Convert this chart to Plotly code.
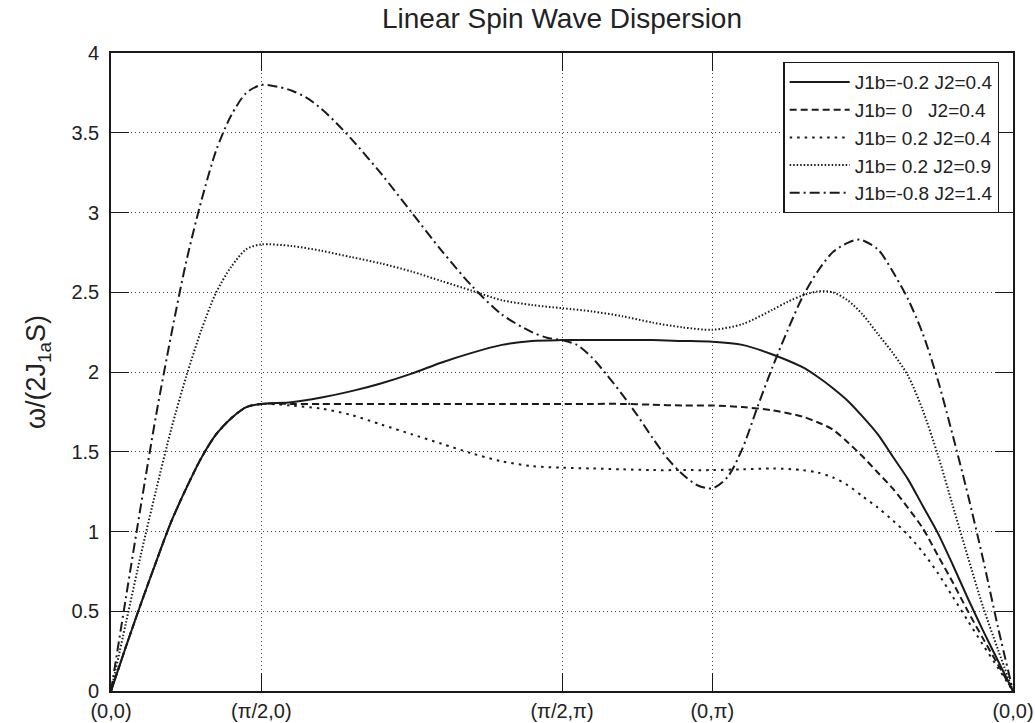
import plotly.graph_objects as go

# ---------------- data ----------------
# x = position along the path (0,0)->(pi/2,0)->(pi/2,pi)->(0,pi)->(0,0), in units of pi
tick_vals = [0, 0.5, 1.5, 2.0, 3.0]
tick_text = ["(0,0)", "(π/2,0)", "(π/2,π)", "(0,π)", "(0,0)"]

series_names = [
    "J1b=-0.2 J2=0.4",
    "J1b= 0   J2=0.4",
    "J1b= 0.2 J2=0.4",
    "J1b= 0.2 J2=0.9",
    "J1b=-0.8 J2=1.4",
]

x_a = [0, 0.05, 0.1, 0.15, 0.2, 0.25, 0.3, 0.35, 0.4, 0.45, 0.5,
       0.6, 0.7, 0.8, 0.9, 1.0, 1.1, 1.2, 1.3, 1.4, 1.5,
       1.6, 1.7, 1.8, 1.9, 2.0,
       2.1, 2.2, 2.3, 2.35, 2.4, 2.45, 2.5, 2.55, 2.6, 2.65, 2.7, 2.75, 2.8, 2.85, 2.9, 2.95, 3.0]

y_m02_04 = [0, 0.28, 0.55, 0.81, 1.06, 1.27, 1.46, 1.61, 1.71, 1.78, 1.80,
            1.81, 1.84, 1.88, 1.93, 1.99, 2.06, 2.12, 2.17, 2.195, 2.20,
            2.20, 2.20, 2.20, 2.195, 2.19,
            2.17, 2.11, 2.03, 1.97, 1.90, 1.82, 1.72, 1.61, 1.47, 1.33, 1.16, 0.99, 0.79, 0.58, 0.38, 0.19, 0]

y_0_04 = [0, 0.28, 0.55, 0.81, 1.06, 1.27, 1.46, 1.61, 1.71, 1.78, 1.80,
          1.80, 1.80, 1.80, 1.80, 1.80, 1.80, 1.80, 1.80, 1.80, 1.80,
          1.80, 1.80, 1.795, 1.79, 1.79,
          1.78, 1.76, 1.72, 1.685, 1.64, 1.56, 1.47, 1.37, 1.27, 1.15, 1.02, 0.85, 0.68, 0.50, 0.33, 0.165, 0]

y_02_04 = [0, 0.28, 0.55, 0.81, 1.06, 1.27, 1.46, 1.61, 1.71, 1.78, 1.80,
           1.79, 1.77, 1.73, 1.67, 1.61, 1.55, 1.49, 1.44, 1.41, 1.40,
           1.395, 1.39, 1.385, 1.385, 1.385,
           1.39, 1.395, 1.385, 1.37, 1.34, 1.29, 1.22, 1.15, 1.07, 0.98, 0.87, 0.74, 0.59, 0.44, 0.29, 0.145, 0]

x_b = [0, 0.05, 0.1, 0.15, 0.2, 0.25, 0.3, 0.35, 0.4, 0.45, 0.5,
       0.6, 0.7, 0.8, 0.9, 1.0, 1.1, 1.2, 1.3, 1.4, 1.5,
       1.6, 1.7, 1.8, 1.9, 2.0,
       2.1, 2.2, 2.25, 2.3, 2.35, 2.4, 2.45, 2.5, 2.55, 2.6, 2.65, 2.7, 2.75, 2.8, 2.85, 2.9, 2.95, 3.0]
y_02_09 = [0, 0.43, 0.86, 1.26, 1.64, 1.97, 2.26, 2.50, 2.66, 2.77, 2.80,
           2.79, 2.76, 2.72, 2.68, 2.63, 2.57, 2.51, 2.45, 2.42, 2.40,
           2.38, 2.35, 2.31, 2.28, 2.265,
           2.30, 2.39, 2.44, 2.48, 2.505, 2.50, 2.45, 2.36, 2.24, 2.12, 1.98, 1.76, 1.48, 1.16, 0.84, 0.53, 0.26, 0]

x_c = [0, 0.05, 0.1, 0.15, 0.2, 0.25, 0.3, 0.35, 0.4, 0.45, 0.5,
       0.55, 0.6, 0.65, 0.7, 0.75, 0.8, 0.9, 1.0, 1.1, 1.2, 1.3, 1.4, 1.45, 1.5,
       1.55, 1.6, 1.65, 1.7, 1.75, 1.8, 1.85, 1.9, 1.95, 2.0,
       2.05, 2.1, 2.15, 2.2, 2.25, 2.3, 2.35, 2.4, 2.45, 2.49, 2.55, 2.6, 2.65, 2.7, 2.75, 2.8, 2.85, 2.9, 2.95, 3.0]
y_m08_14 = [0, 0.59, 1.17, 1.73, 2.23, 2.69, 3.07, 3.39, 3.61, 3.75, 3.80,
            3.79, 3.765, 3.72, 3.65, 3.56, 3.46, 3.24, 3.00, 2.76, 2.54, 2.36, 2.25, 2.215, 2.20,
            2.17, 2.09, 1.98, 1.86, 1.73, 1.59, 1.46, 1.36, 1.29, 1.27,
            1.34, 1.52, 1.78, 2.03, 2.26, 2.47, 2.63, 2.75, 2.81, 2.83, 2.77, 2.63, 2.46, 2.24, 1.95, 1.60, 1.23, 0.83, 0.40, 0]

series_x = [x_a, x_a, x_a, x_b, x_c]
series_y = [y_m02_04, y_0_04, y_02_04, y_02_09, y_m08_14]
series_dash = ["solid", "7px,4px", "2.5px,5px", "1.5px,2px", "10px,4px,2px,4px"]

# ---------------- figure ----------------
FONT = "Liberation Sans, Arial, Helvetica, sans-serif"
fig = go.Figure()
for name, xs, ys, dash in zip(series_names, series_x, series_y, series_dash):
    fig.add_trace(go.Scatter(
        x=xs, y=ys, mode="lines", name=name,
        line=dict(color="#1a1a1a", width=2, dash=dash, shape="spline", smoothing=0.8),
    ))

axis_common = dict(
    ticks="inside", ticklen=18, tickwidth=1.2, tickcolor="#1a1a1a",
    showline=True, linecolor="#1a1a1a", linewidth=1.6, mirror="ticks",
    showgrid=True, gridcolor="#444444", gridwidth=1, griddash="1px,3px",
    zeroline=False, tickfont=dict(size=20, color="#222222", family=FONT),
)

fig.update_xaxes(range=[0, 3], tickvals=tick_vals, ticktext=tick_text,
                 ticklabelstandoff=1, **axis_common)
fig.update_yaxes(range=[0, 4], dtick=0.5, tick0=0, ticklabelstandoff=6,
                 title=dict(text="ω/(2J<sub>1a</sub>S)", font=dict(size=27, family=FONT, color="#222222"),
                            standoff=18),
                 **axis_common)

fig.update_layout(
    width=1035, height=723,
    margin=dict(l=111, r=22, t=53, b=32, autoexpand=False),
    plot_bgcolor="white", paper_bgcolor="white",
    font=dict(family=FONT, color="#222222"),
    title=dict(text="Linear Spin Wave Dispersion", x=0.5, xref="paper", xanchor="center",
               y=0.975, yanchor="middle", font=dict(size=28, family=FONT, color="#222222")),
    showlegend=True,
    legend=dict(x=0.985, y=0.986, xanchor="right", yanchor="top",
                bgcolor="white", bordercolor="#1a1a1a", borderwidth=1.2,
                font=dict(size=19, family=FONT, color="#222222"),
                itemwidth=60, tracegroupgap=0),
)

fig.write_html("out.html", config={"displayModeBar": False},
               post_script="document.body.style.margin='0';")
